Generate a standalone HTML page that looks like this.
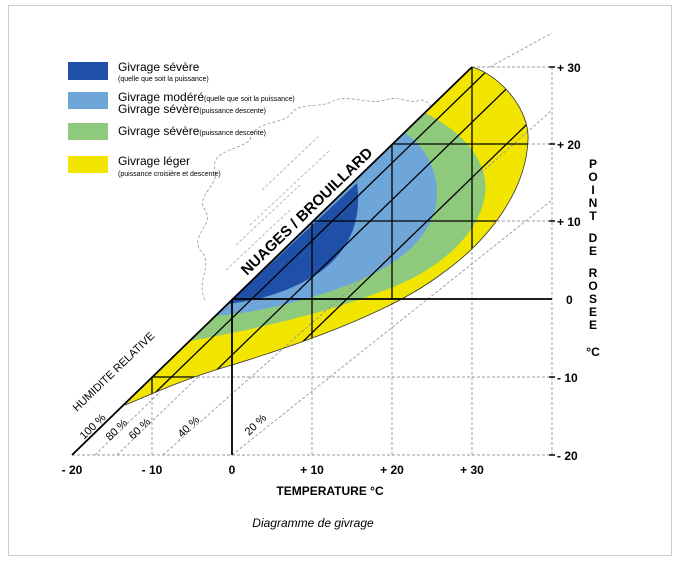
<!DOCTYPE html>
<html><head><meta charset="utf-8"><style>
body{margin:0;background:#fff;}
svg{display:block;font-family:"Liberation Sans",sans-serif;}
</style></head><body>
<svg width="680" height="583" viewBox="0 0 680 583">
<rect x="8.5" y="5.5" width="663" height="550" fill="none" stroke="#ccc"/>
<defs>
<clipPath id="sh"><path d="M472,67 C500,75 530,110 528,140 C526,190 490,240 440,275 C400,305 330,335 232,365 C180,380 150,395 125,405 Z"/></clipPath>
</defs>
<!-- cloud -->
<path d="M205,300 C195,280 215,265 200,250 C190,235 215,225 205,210 C195,195 220,185 215,170 C210,150 240,150 250,140 C255,120 280,125 290,115 C300,100 320,110 335,100 C350,95 370,105 385,100 C400,95 410,105 420,100 C430,100 435,110 430,120" fill="none" stroke="#999" stroke-dasharray="3,2" stroke-width="0.8"/>
<g stroke="#aaa" stroke-width="0.8" stroke-dasharray="3,2" fill="none">
<path d="M226,270 L290,210 M236,245 L300,185 M250,225 L330,150 M262,190 L320,135"/>
</g>
<!-- colored regions -->
<path d="M472,67 C500,75 530,110 528,140 C526,190 490,240 440,275 C400,305 330,335 232,365 C180,380 150,395 125,405 Z" fill="#f2e500"/>
<path d="M425,113 C460,130 490,160 485,195 C478,240 430,275 380,292 C320,315 250,330 190,341 Z" fill="#8fca7c"/>
<path d="M405,133 C430,150 442,180 435,210 C425,245 390,270 340,288 C300,302 260,312 215,316 Z" fill="#6fa6da"/>
<path d="M357,183 C362,220 350,250 320,272 C290,292 260,300 228,304 Z" fill="#1f4fa6"/>
<!-- dashed grid -->
<g stroke="#999" stroke-width="0.9" stroke-dasharray="3,2" fill="none">
<path d="M152,455V377 M232,455V299 M312,455V221 M392,455V144 M472,455V67 M552,455V67 M72,455H552 M152,377H552 M232,299H552 M312,221H552 M392,144H552 M472,67H552"/>
<path d="M95,455 L160,392 M117,455 L200,375 M163,455 L552,110 M232,455 L552,200 M490,67 L552,33"/>
</g>
<!-- black lines inside shape -->
<g clip-path="url(#sh)" stroke="#000" stroke-width="1.3" fill="none">
<path d="M152,455V377 M312,455V221 M392,299V144 M472,455V67 M152,377H552 M312,221H552 M392,144H552"/>
<path d="M91,455 L560,0 M129,455 L598,0 M186,455 L655,0"/>
</g>
<path d="M472,67 C500,75 530,110 528,140 C526,190 490,240 440,275 C400,305 330,335 232,365 C180,380 150,395 125,405" fill="none" stroke="#333" stroke-width="0.8"/>
<path d="M72,455 L472,67" stroke="#000" stroke-width="1.8"/>
<path d="M232,299H552 M232,299V455" stroke="#000" stroke-width="1.8"/>
<!-- right ticks -->
<g stroke="#000" stroke-width="1.5"><path d="M549,67h6M549,144h6M549,221h6M549,377h6M549,455h6"/></g>
<g font-size="12" font-weight="bold" fill="#000">
<text x="557" y="72">+ 30</text><text x="557" y="149">+ 20</text><text x="557" y="226">+ 10</text>
<text x="566" y="304">0</text><text x="557" y="382">- 10</text><text x="557" y="460">- 20</text>
<text x="72" y="474" text-anchor="middle">- 20</text><text x="152" y="474" text-anchor="middle">- 10</text>
<text x="232" y="474" text-anchor="middle">0</text><text x="312" y="474" text-anchor="middle">+ 10</text>
<text x="392" y="474" text-anchor="middle">+ 20</text><text x="472" y="474" text-anchor="middle">+ 30</text>
<text x="330" y="495" text-anchor="middle">TEMPERATURE °C</text>
</g>
<g font-size="12" font-weight="bold" text-anchor="middle">
<text x="593" y="168">P</text><text x="593" y="181">O</text><text x="593" y="194">I</text><text x="593" y="207">N</text><text x="593" y="220">T</text>
<text x="593" y="242">D</text><text x="593" y="255">E</text>
<text x="593" y="277">R</text><text x="593" y="290">O</text><text x="593" y="303">S</text><text x="593" y="316">E</text><text x="593" y="329">E</text>
<text x="593" y="356">°C</text>
</g>
<text x="0" y="0" font-size="15" font-weight="bold" transform="translate(247,276) rotate(-44)">NUAGES / BROUILLARD</text>
<text x="0" y="0" font-size="11" transform="translate(77,412) rotate(-44)">HUMIDITE RELATIVE</text>
<g font-size="11">
<text transform="translate(84,440) rotate(-44)">100 %</text>
<text transform="translate(110,441) rotate(-44)">80 %</text>
<text transform="translate(133,440) rotate(-44)">60 %</text>
<text transform="translate(182,438) rotate(-44)">40 %</text>
<text transform="translate(249,436) rotate(-44)">20 %</text>
</g>
<!-- legend -->
<rect x="68" y="62" width="40" height="18" fill="#1f4fa6"/>
<rect x="68" y="92" width="40" height="17" fill="#6fa6da"/>
<rect x="68" y="123" width="40" height="17" fill="#8fca7c"/>
<rect x="68" y="156" width="40" height="17" fill="#f2e500"/>
<g font-size="12">
<text x="118" y="71">Givrage sévère</text>
<text x="118" y="81" font-size="7">(quelle que soit la puissance)</text>
<text x="118" y="101">Givrage modéré<tspan font-size="7">(quelle que soit la puissance)</tspan></text>
<text x="118" y="113">Givrage sévère<tspan font-size="7">(puissance descente)</tspan></text>
<text x="118" y="135">Givrage sévère<tspan font-size="7">(puissance descente)</tspan></text>
<text x="118" y="165">Givrage léger</text>
<text x="118" y="176" font-size="7">(puissance croisière et descente)</text>
</g>
<text x="313" y="527" font-size="12" font-style="italic" text-anchor="middle">Diagramme de givrage</text>
</svg>
</body></html>
